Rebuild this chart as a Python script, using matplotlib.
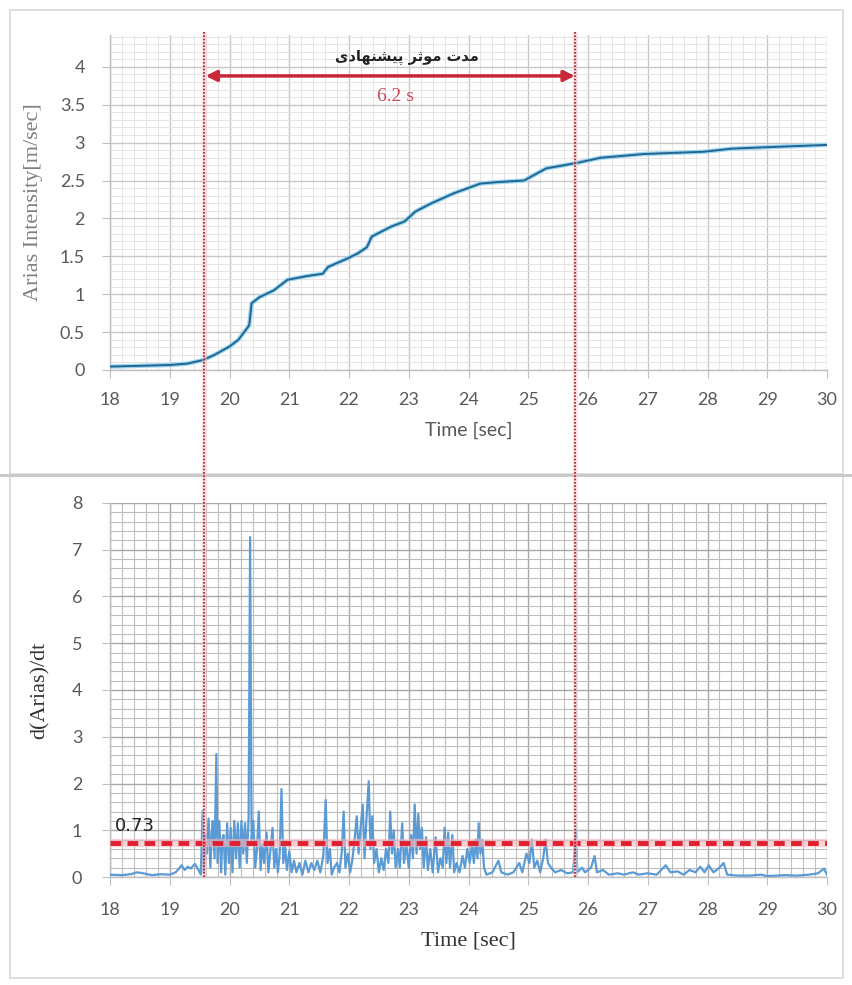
import matplotlib
matplotlib.use("Agg")
import matplotlib.pyplot as plt
from matplotlib.ticker import MultipleLocator
from matplotlib.patches import Rectangle
from matplotlib.lines import Line2D

# ---------------- data ----------------
arias_t = [18.0, 19.0, 19.3, 19.55, 19.75, 20.0, 20.15, 20.33, 20.37, 20.5, 20.74, 20.97,
           21.3, 21.56, 21.65, 21.97, 22.15, 22.3, 22.38, 22.7, 22.93, 23.11, 23.38,
           23.75, 24.2, 24.5, 24.93, 25.3, 25.8, 26.21, 26.94, 27.94, 28.4, 29.0, 30.0]
arias_v = [0.045, 0.066, 0.085, 0.13, 0.2, 0.31, 0.4, 0.59, 0.88, 0.96, 1.05, 1.19,
           1.24, 1.27, 1.36, 1.47, 1.54, 1.62, 1.76, 1.89, 1.96, 2.09, 2.2,
           2.33, 2.46, 2.48, 2.5, 2.66, 2.73, 2.80, 2.85, 2.88, 2.92, 2.94, 2.97]

deriv_t = [18.0, 18.2, 18.35, 18.45, 18.55, 18.7, 18.85, 19.0, 19.1, 19.2, 19.25, 19.3, 19.35,
           19.42, 19.48, 19.52,
           19.55, 19.57, 19.6, 19.62, 19.65, 19.68, 19.7, 19.72, 19.75, 19.78, 19.8, 19.83, 19.86,
           19.88, 19.9, 19.93, 19.96, 19.99, 20.02, 20.05, 20.08, 20.11, 20.14, 20.17, 20.2,
           20.23, 20.26, 20.29, 20.32, 20.345, 20.37, 20.4, 20.43, 20.46, 20.49, 20.52, 20.55,
           20.58, 20.62, 20.65, 20.68, 20.72, 20.75, 20.78, 20.81, 20.84, 20.87, 20.9, 20.93,
           20.96, 21.0, 21.04, 21.08, 21.12, 21.17, 21.22, 21.27, 21.32, 21.37, 21.42, 21.47,
           21.52, 21.57, 21.61, 21.64, 21.68, 21.71, 21.75, 21.8, 21.84, 21.88, 21.91, 21.94,
           21.98, 22.02, 22.06, 22.1, 22.13, 22.16, 22.19, 22.23, 22.26, 22.29, 22.33, 22.36,
           22.39, 22.42, 22.46, 22.5, 22.54, 22.58, 22.62, 22.66, 22.69, 22.72, 22.75, 22.78,
           22.82, 22.85, 22.89, 22.92, 22.96, 23.0, 23.04, 23.07, 23.1, 23.13, 23.16, 23.19,
           23.22, 23.25, 23.29, 23.32, 23.36, 23.4, 23.45, 23.49, 23.53, 23.57, 23.6, 23.63,
           23.66, 23.69, 23.73, 23.76, 23.8, 23.85, 23.9, 23.94, 23.98, 24.02, 24.06, 24.09,
           24.12, 24.15, 24.17, 24.2, 24.23, 24.26, 24.3, 24.4, 24.5, 24.55, 24.65, 24.75,
           24.85, 24.9, 24.97, 25.02, 25.06, 25.1, 25.15, 25.2, 25.25, 25.29, 25.33, 25.38,
           25.45, 25.55, 25.65, 25.75, 25.8, 25.82, 25.9, 25.95, 26.05, 26.11, 26.15, 26.25,
           26.35, 26.5, 26.6, 26.75, 26.85, 27.0, 27.15, 27.3, 27.38, 27.5, 27.6, 27.7,
           27.8, 27.88, 27.95, 28.02, 28.1, 28.2, 28.27, 28.33, 28.5, 28.7, 28.9, 29.0,
           29.3, 29.5, 29.7, 29.85, 29.95, 30.0]
deriv_v = [0.05, 0.04, 0.06, 0.1, 0.08, 0.04, 0.06, 0.05, 0.1, 0.25, 0.15, 0.22, 0.18,
           0.28, 0.15, 0.05,
           1.42, 0.1, 0.9, 0.5, 1.25, 0.2, 0.9, 1.2, 0.4, 2.63, 0.3, 1.2, 0.1,
           0.8, 0.9, 0.05, 1.15, 0.3, 1.05, 0.1, 1.2, 0.4, 1.15, 0.2, 1.2,
           0.5, 1.15, 0.3, 1.3, 7.27, 0.8, 1.2, 0.2, 0.6, 1.4, 0.15, 0.7,
           0.3, 0.95, 0.1, 0.5, 1.05, 0.2, 0.6, 0.1, 0.5, 1.88, 0.3, 0.7,
           0.15, 0.55, 0.1, 0.35, 0.1, 0.3, 0.05, 0.35, 0.1, 0.3, 0.15, 0.35,
           0.1, 0.45, 1.65, 0.3, 0.6, 0.05, 0.2, 0.3, 0.1, 0.55, 1.4, 0.2,
           0.5, 0.1, 0.4, 0.9, 1.3, 0.5, 1.0, 1.55, 0.4, 1.2, 2.05, 0.6,
           1.3, 0.3, 0.6, 0.1, 0.4, 0.15, 0.6, 0.3, 1.4, 0.5, 1.0, 0.2,
           0.6, 0.2, 1.15, 0.3, 0.7, 0.2, 0.9, 0.4, 1.55, 0.5, 1.35, 0.6,
           1.05, 0.2, 0.85, 0.15, 0.6, 0.1, 0.85, 0.1, 0.4, 0.2, 1.05, 0.3,
           0.95, 0.2, 0.9, 0.1, 0.3, 0.1, 0.45, 0.2, 0.6, 0.3, 0.7, 0.3,
           0.8, 0.4, 1.15, 0.5, 0.8, 0.2, 0.05, 0.1, 0.35, 0.1, 0.05, 0.1,
           0.3, 0.1, 0.5, 0.3, 0.8, 0.2, 0.35, 0.1, 0.4, 0.8, 0.3, 0.2,
           0.1, 0.15, 0.08, 0.1, 1.0, 0.1, 0.2, 0.1, 0.2, 0.45, 0.1, 0.15,
           0.05, 0.08, 0.05, 0.1, 0.05, 0.08, 0.05, 0.25, 0.1, 0.12, 0.05, 0.15,
           0.1, 0.22, 0.1, 0.25, 0.1, 0.2, 0.3, 0.05, 0.03, 0.03, 0.05, 0.02,
           0.04, 0.03, 0.05, 0.08, 0.18, 0.05]

t_start = 19.58
t_end = 25.78
threshold = 0.73
duration_label = "6.2 s"
# Persian title "مدت موثر پیشنهادی" written in visual order with joined (presentation) forms
persian_title = "\uFBFC\uFEA9\uFE8E\uFEEC\uFEE8\uFEB8\uFBFF\uFB58 \uFEAE\uFE9B\uFEEE\uFEE3 \uFE95\uFEAA\uFEE3"

x_ticks = list(range(18, 31))
top_yticks = [0, 0.5, 1, 1.5, 2, 2.5, 3, 3.5, 4]
bot_yticks = [0, 1, 2, 3, 4, 5, 6, 7, 8]

# ---------------- figure ----------------
W, H = 853, 985
fig = plt.figure(figsize=(W / 100, H / 100), dpi=100)
fig.patch.set_facecolor("white")

def fx(px):
    return px / W

def fy(py):
    return 1 - py / H

# frames
fig.add_artist(Rectangle((fx(10), fy(474)), fx(833), fy(10) - fy(474), transform=fig.transFigure,
                         fill=False, edgecolor="#d9d9d9", lw=1.2))
fig.add_artist(Rectangle((fx(10), fy(978)), fx(833), fy(476) - fy(978), transform=fig.transFigure,
                         fill=False, edgecolor="#d9d9d9", lw=1.2))
fig.add_artist(Line2D([0, 1], [fy(475), fy(475)], transform=fig.transFigure, color="#c8c8c8", lw=2))

left = fx(110)
width = fx(827) - fx(110)
ax1 = fig.add_axes([left, fy(370), width, fy(35) - fy(370)])
ax2 = fig.add_axes([left, fy(877), width, fy(503) - fy(877)])

tick_font = "Lato"
gray = "#595959"

for ax in (ax1, ax2):
    ax.set_xlim(18, 30)
    ax.set_xticks(x_ticks)
    ax.xaxis.set_minor_locator(MultipleLocator(0.2))
    for s in ("top", "right"):
        ax.spines[s].set_visible(False)
    for s in ("left", "bottom"):
        ax.spines[s].set_color("#bfbfbf")
        ax.spines[s].set_linewidth(1.0)
    ax.tick_params(axis="both", which="major", direction="out", length=6, color="#bfbfbf",
                   labelcolor=gray, labelsize=13)
    ax.tick_params(axis="both", which="minor", length=0)
    ax.set_axisbelow(True)

# ----- top chart -----
ax1.set_ylim(0, 4.42)
ax1.set_yticks(top_yticks)
ax1.set_yticklabels(["0", "0.5", "1", "1.5", "2", "2.5", "3", "3.5", "4"], fontfamily=tick_font)
ax1.set_xticklabels([str(v) for v in x_ticks], fontfamily=tick_font)
ax1.yaxis.set_minor_locator(MultipleLocator(0.1))
ax1.tick_params(axis="x", pad=10)
ax1.tick_params(axis="y", pad=12)
ax1.grid(which="major", color="#c8c8c8", lw=1.0)
ax1.grid(which="minor", color="#e8e4e4", lw=0.7)
ax1.plot(arias_t, arias_v, color="#9ad6f2", lw=3.2, solid_capstyle="round", zorder=3)
ax1.plot(arias_t, arias_v, color="#22658f", lw=1.4, zorder=4)
ax1.set_xlabel("Time [sec]", fontfamily=tick_font, fontsize=14, color=gray, labelpad=10)
ax1.set_ylabel("Arias Intensity[m/sec]", fontfamily="Liberation Serif", fontsize=16,
               color="#7f7f7f", labelpad=12)

ax1.annotate("", xy=(t_start + 0.02, 3.88), xytext=(t_end, 3.88),
             arrowprops=dict(arrowstyle="<|-|>", color="#c8283a", lw=2.5, mutation_scale=16,
                             shrinkA=0, shrinkB=0), zorder=6)
ax1.text((t_start + t_end) / 2 + 0.1, 3.61, duration_label, ha="center", va="center",
         fontfamily="Liberation Serif", fontsize=14, color="#c94a5a", zorder=6)
ax1.text(22.97, 4.13, persian_title, ha="center", va="center",
         fontfamily=["DejaVu Sans"], fontsize=10.5, fontweight="bold", color="#222222", zorder=6)

# ----- bottom chart -----
ax2.set_ylim(0, 8)
ax2.set_yticks(bot_yticks)
ax2.set_yticklabels([str(v) for v in bot_yticks], fontfamily=tick_font)
ax2.set_xticklabels([str(v) for v in x_ticks], fontfamily=tick_font)
ax2.yaxis.set_minor_locator(MultipleLocator(0.2))
ax2.tick_params(axis="x", pad=12)
ax2.tick_params(axis="y", pad=14)
ax2.grid(which="major", color="#a8a8a8", lw=1.0)
ax2.grid(which="minor", color="#bdbdbd", lw=0.8)
ax2.plot(deriv_t, deriv_v, color="#5b9bd5", lw=1.6, zorder=3)
ax2.axhline(threshold, color="#f7b7bd", lw=6, zorder=4, alpha=0.6)
ax2.axhline(threshold, color="#e02030", lw=3.5, ls=(0, (2.2, 1.3)), zorder=5)
ax2.text(18.08, 1.1, f"{threshold:.2f}", ha="left", va="center", fontfamily="DejaVu Sans",
         fontsize=13, color="#222222", zorder=6)
ax2.set_xlabel("Time [sec]", fontfamily="Liberation Serif", fontsize=16, color="#333333",
               labelpad=10)
ax2.set_ylabel("d(Arias)/dt", fontfamily="Liberation Serif", fontsize=16, color="#333333",
               labelpad=16)

# ----- vertical dotted lines spanning both charts -----
axo = fig.add_axes([left, fy(877), width, fy(32) - fy(877)], zorder=10)
axo.set_xlim(18, 30)
axo.set_ylim(0, 1)
axo.axis("off")
axo.patch.set_alpha(0)
for xv in (t_start, t_end):
    axo.axvline(xv, color="#f4c6ca", lw=3.5, alpha=0.5)
    axo.axvline(xv, color="#b0101c", lw=1.2, ls=(0, (1, 1)))

fig.savefig("out.png", dpi=100, facecolor="white")
